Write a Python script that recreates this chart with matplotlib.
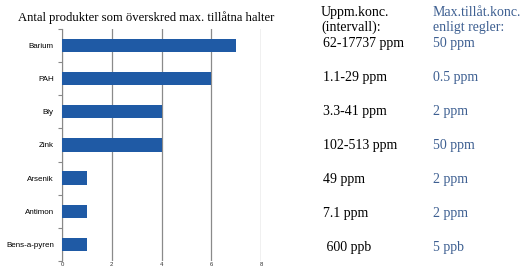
import matplotlib.pyplot as plt

amnen = ['Barium', 'PAH', 'Bly', 'Zink', 'Arsenik', 'Antimon', 'Bens-a-pyren']
antal = [7, 6, 4, 4, 1, 1, 1]
uppm = ['62-17737 ppm', '1.1-29 ppm', '3.3-41 ppm', '102-513 ppm', '49 ppm', '7.1 ppm', ' 600 ppb']
maxtillat = ['50 ppm', '0.5 ppm', '2 ppm', '50 ppm', '2 ppm', '2 ppm', '5 ppb']
x_ticks = [0, 2, 4, 6, 8]

fig = plt.figure(figsize=(5.22, 2.69), dpi=100)
ax = fig.add_axes([0.119, 0.03, 0.381, 0.862])

y = list(range(len(amnen)))
ax.barh(y, antal, height=0.4, color='#1f5aa5', zorder=3)
ax.set_ylim(len(amnen) - 0.5, -0.5)
ax.set_xlim(0, 8)
ax.set_xticks(x_ticks)
ax.set_xticklabels([str(t) for t in x_ticks], fontsize=4.3, family='Liberation Sans', color='#333333')
ax.set_yticks(y)
ax.set_yticklabels(amnen, fontsize=5.8, family='Liberation Sans')
ax.set_yticks([i - 0.5 for i in range(len(amnen) + 1)], minor=True)
ax.tick_params(axis='y', which='major', length=0, pad=6)
ax.tick_params(axis='y', which='minor', length=3, color='#888888', width=0.8)
ax.tick_params(axis='x', length=0, pad=0.5)
ax.grid(axis='x', color='#8a8a8a', linewidth=0.9, zorder=0)
for s in ['top', 'right', 'bottom']:
    ax.spines[s].set_visible(False)
ax.spines['left'].set_color('#888888')

fig.text(0.28, 0.935, 'Antal produkter som överskred max. tillåtna halter',
         ha='center', va='center', fontsize=9.1, family='Liberation Serif')

fs = 10
fig.text(0.615, 0.955, 'Uppm.konc.', ha='left', va='center', fontsize=fs, family='Liberation Serif')
fig.text(0.615, 0.898, '(intervall):', ha='left', va='center', fontsize=fs, family='Liberation Serif')
fig.text(0.829, 0.955, 'Max.tillåt.konc.', ha='left', va='center', fontsize=fs,
         family='Liberation Serif', color='#3d5f91')
fig.text(0.829, 0.898, 'enligt regler:', ha='left', va='center', fontsize=fs,
         family='Liberation Serif', color='#3d5f91')

rad_y = [44, 78, 111, 145, 179, 213, 247]
for yy, u, m in zip(rad_y, uppm, maxtillat):
    fy = 1 - yy / 269
    fig.text(0.618, fy, u, ha='left', va='center', fontsize=fs, family='Liberation Serif')
    fig.text(0.829, fy, m, ha='left', va='center', fontsize=fs, family='Liberation Serif', color='#3d5f91')

fig.savefig('out.png', dpi=100)
